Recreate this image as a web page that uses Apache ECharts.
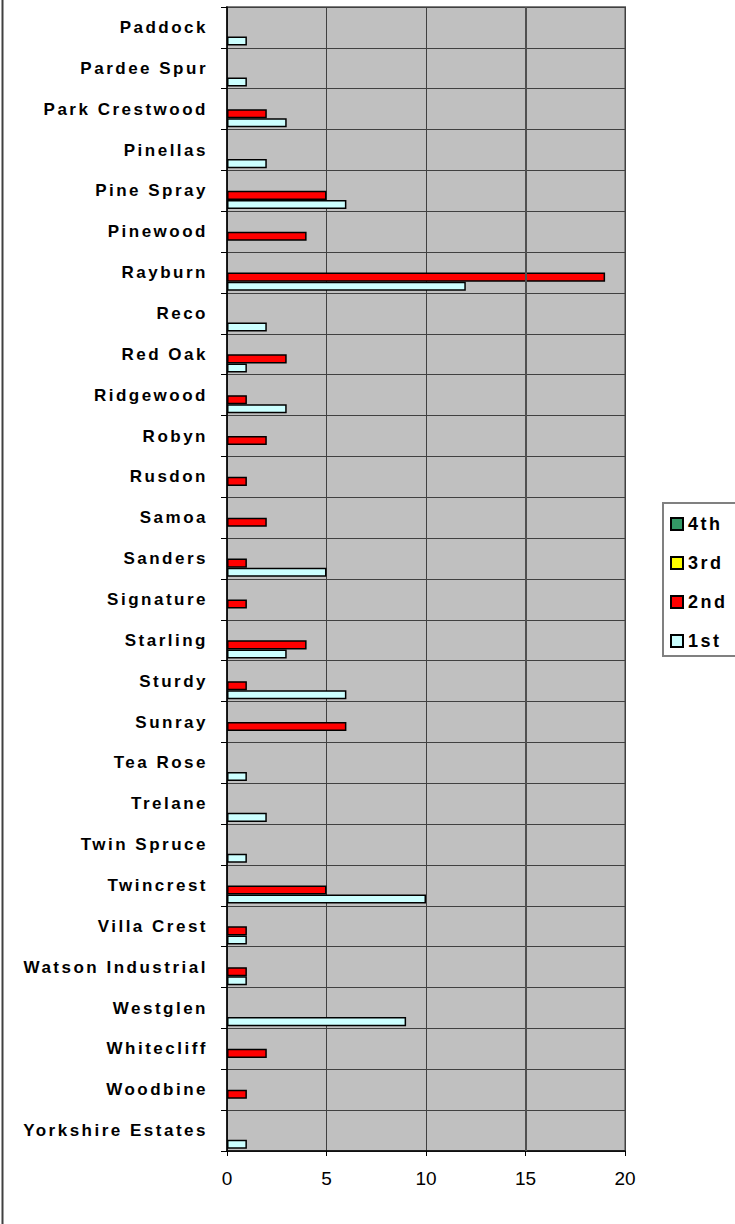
<!DOCTYPE html>
<html>
<head>
<meta charset="utf-8">
<script src="https://cdn.jsdelivr.net/npm/echarts@6/dist/echarts.min.js"></script>
<style>
  html, body { margin: 0; padding: 0; background: #ffffff; }
  #main { width: 735px; height: 1224px; }
  #main text[style*="bold"] { letter-spacing: 2.5px; }
</style>
</head>
<body>
<div id="main"></div>
<script>
var categories = ['Paddock', 'Pardee Spur', 'Park Crestwood', 'Pinellas', 'Pine Spray', 'Pinewood', 'Rayburn', 'Reco', 'Red Oak', 'Ridgewood', 'Robyn', 'Rusdon', 'Samoa', 'Sanders', 'Signature', 'Starling', 'Sturdy', 'Sunray', 'Tea Rose', 'Trelane', 'Twin Spruce', 'Twincrest', 'Villa Crest', 'Watson Industrial', 'Westglen', 'Whitecliff', 'Woodbine', 'Yorkshire Estates'];
var fourth = [null, null, null, null, null, null, null, null, null, null, null, null, null, null, null, null, null, null, null, null, null, null, null, null, null, null, null, null];
var third = [null, null, null, null, null, null, null, null, null, null, null, null, null, null, null, null, null, null, null, null, null, null, null, null, null, null, null, null];
var second = [null, null, 2, null, 5, 4, 19, null, 3, 1, 2, 1, 2, 1, 1, 4, 1, 6, null, null, null, 5, 1, 1, null, 2, 1, null];
var first = [1, 1, 3, 2, 6, null, 12, 2, 1, 3, null, null, null, 5, null, 3, 6, null, 1, 2, 1, 10, 1, 1, 9, null, null, 1];
var xTicks = [0, 5, 10, 15, 20];

var chart = echarts.init(document.getElementById('main'), null, { renderer: 'svg' });
var FONT = '"Liberation Sans", Arial, sans-serif';

function barSeries(name, data, color) {
  return {
    name: name,
    type: 'bar',
    data: data,
    barGap: '0%',
    barCategoryGap: '11%',
    itemStyle: { color: color, borderColor: '#000000', borderWidth: 1.5 },
    emphasis: { disabled: true },
    animation: false
  };
}

var s4 = barSeries('4th', fourth, '#339966');
var s3 = barSeries('3rd', third, '#FFFF00');
var s2 = barSeries('2nd', second, '#FF0000');
var s1 = barSeries('1st', first, '#CCFFFF');
s1.markLine = {
  silent: true,
  symbol: 'none',
  label: { show: false },
  lineStyle: { color: '#505050', width: 2, type: 'solid' },
  data: [{ xAxis: xTicks[3] }]
};

chart.setOption({
  animation: false,
  backgroundColor: '#ffffff',
  textStyle: { fontFamily: FONT },
  grid: {
    left: 227, top: 7, right: 110, bottom: 73,
    show: true,
    backgroundColor: '#C0C0C0',
    borderColor: '#808080',
    borderWidth: 2
  },
  xAxis: {
    type: 'value',
    min: xTicks[0],
    max: xTicks[xTicks.length - 1],
    interval: 5,
    axisLine: { show: true, lineStyle: { color: '#000000', width: 1.5 } },
    axisTick: { show: true, length: 5, lineStyle: { color: '#000000', width: 1 } },
    axisLabel: { color: '#000000', fontSize: 19, fontFamily: FONT, margin: 18 },
    splitLine: { show: true, lineStyle: { color: '#404040', width: 1 } }
  },
  yAxis: {
    type: 'category',
    data: categories,
    inverse: true,
    axisLine: { show: true, lineStyle: { color: '#000000', width: 1.5 } },
    axisTick: { show: true, length: 6, lineStyle: { color: '#000000', width: 1 } },
    axisLabel: {
      interval: 0,
      color: '#000000',
      fontSize: 17,
      fontWeight: 'bold',
      fontFamily: FONT,
      margin: 19
    },
    splitLine: { show: true, interval: 0, lineStyle: { color: '#404040', width: 1 } }
  },
  legend: {
    orient: 'vertical',
    left: 670,
    top: 515,
    padding: 0,
    itemWidth: 12,
    itemHeight: 12,
    itemGap: 21,
    itemTextGap: 9,
    icon: 'rect',
    textStyle: { color: '#000000', fontSize: 18, fontWeight: 'bold', fontFamily: FONT },
    data: ['4th', '3rd', '2nd', '1st']
  },
  graphic: [
    {
      type: 'rect',
      silent: true,
      shape: { x: 663, y: 503, width: 100, height: 153 },
      style: { fill: 'none', stroke: '#808080', lineWidth: 2 }
    },
    {
      type: 'line',
      silent: true,
      shape: { x1: 2.5, y1: 0, x2: 2.5, y2: 1224 },
      style: { stroke: '#404040', lineWidth: 2 }
    }
  ],
  series: [s4, s3, s2, s1]
});
</script>
</body>
</html>
